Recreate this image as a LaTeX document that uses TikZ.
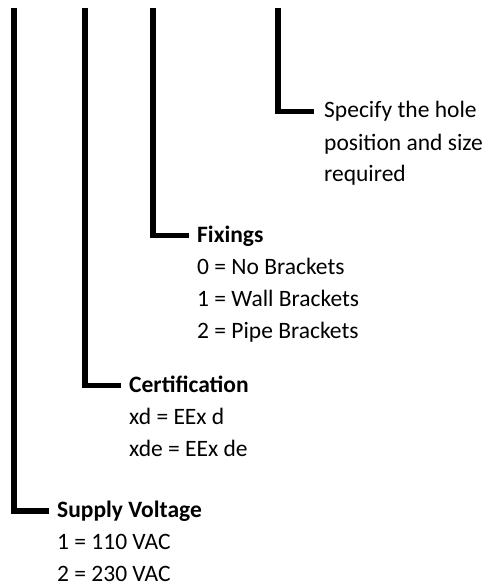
\documentclass[tikz,border=0pt]{standalone}
\usepackage{fontspec}
\setmainfont{Carlito}
\usetikzlibrary{positioning}

\newcommand{\keyfont}{\fontsize{23.5}{32}\selectfont}

\begin{document}
\begin{tikzpicture}[
  x=1pt, y=-1pt,
  lead/.style={line width=5.5pt},
  tag/.style={font=\keyfont, inner sep=0pt, text height=16pt, text depth=3pt},
  head/.style={tag, font=\keyfont\bfseries},
  opts/.style={font=\keyfont, align=left, inner sep=0pt, anchor=base west}
]
\useasboundingbox (0,0) rectangle (490,588);

% lead lines
\coordinate (v1) at (14,8);
\coordinate (v2) at (85,8);
\coordinate (v3) at (153,8);
\coordinate (v4) at (278,8);
\coordinate (c1) at (49,511);
\coordinate (c2) at (121,385.5);
\coordinate (c3) at (189,235.5);
\coordinate (c4) at (314,111.5);

\draw[lead] (v1) |- (c1);
\draw[lead] (v2) |- (c2);
\draw[lead] (v3) |- (c3);
\draw[lead] (v4) |- (c4);

% labels (base of a multi-line node is its last line)
\node[head, right=8pt of c1] (volt) {Supply Voltage};
\node[opts] (voltopt) at ([yshift=-64pt]volt.base west) {1 = 110 VAC\\2 = 230 VAC};

\node[head, right=8pt of c2] (cert) {Certification};
\node[opts] (certopt) at ([yshift=-64pt]cert.base west) {xd = EEx d\\xde = EEx de};

\node[head, right=8pt of c3] (fix) {Fixings};
\node[opts] (fixopt) at ([yshift=-96pt]fix.base west) {0 = No Brackets\\1 = Wall Brackets\\2 = Pipe Brackets};

\node[tag, right=10pt of c4] (hole) {Specify the hole};
\node[opts] (holeopt) at ([yshift=-64pt]hole.base west) {position and size\\required};

\end{tikzpicture}
\end{document}
